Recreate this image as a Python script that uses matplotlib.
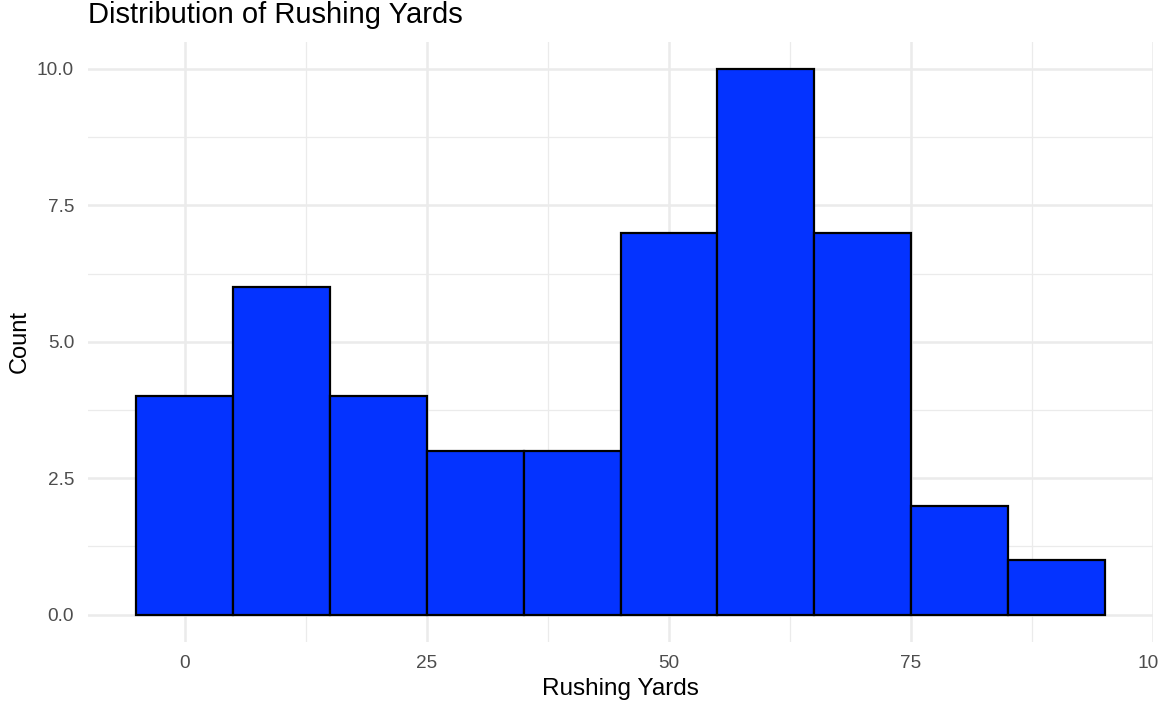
import matplotlib
matplotlib.use("Agg")
import matplotlib.pyplot as plt
from matplotlib.patches import Rectangle
import numpy as np

plt.rcParams['font.family'] = ['Liberation Sans', 'DejaVu Sans']

bin_edges = [-5, 5, 15, 25, 35, 45, 55, 65, 75, 85, 95]
counts = [4, 6, 4, 3, 3, 7, 10, 7, 2, 1]
x_ticks = [0, 25, 50, 75, 100]
y_ticks = [0.0, 2.5, 5.0, 7.5, 10.0]

fig = plt.figure(figsize=(11.71, 7.02), dpi=100)
ax = fig.add_axes([88/1171, 1-642/702, (1153-88)/1171, (642-41.7)/702])

lefts = np.array(bin_edges[:-1])
widths = np.diff(bin_edges)
ax.bar(lefts, counts, width=widths, align='edge', color='#0433FF',
       edgecolor='black', linewidth=1.6, zorder=3)

ax.set_xticks(x_ticks)
ax.set_xticks([12.5, 37.5, 62.5, 87.5], minor=True)
ax.set_yticks(y_ticks)
ax.set_yticks([1.25, 3.75, 6.25, 8.75], minor=True)
ax.set_yticklabels([f"{v:.1f}" for v in y_ticks])
ax.set_xticklabels([str(v) for v in x_ticks])
ax.set_xlim(-10, 100)
ax.set_ylim(-0.5, 10.5)

ax.grid(which='major', color='#EBEBEB', linewidth=1.8, zorder=0)
ax.grid(which='minor', color='#EBEBEB', linewidth=0.9, zorder=0)
for s in ax.spines.values():
    s.set_visible(False)
ax.tick_params(which='both', length=0, labelsize=13.7, labelcolor='#4D4D4D')
ax.tick_params(axis='x', pad=9)
ax.tick_params(axis='y', pad=10)

ax.set_xlabel('Rushing Yards', fontsize=17.5)
ax.set_ylabel('Count', fontsize=17)
ax.xaxis.label.set_va('center')
ax.xaxis.set_label_coords(0.5, -(689-642)/600.3)
ax.yaxis.label.set_va('center')
ax.yaxis.label.set_ha('center')
ax.yaxis.set_label_coords(-(88-20)/1065, 0.5)
fig.text(88/1171, 1-15/702, 'Distribution of Rushing Yards', fontsize=21,
         ha='left', va='center')

# the reference image is cropped at its right edge (cuts the "100" label)
fig.add_artist(Rectangle((1159/1171, 0), 1, 1, transform=fig.transFigure,
                         facecolor='white', edgecolor='none', zorder=10))

fig.savefig('out.png', dpi=100)
